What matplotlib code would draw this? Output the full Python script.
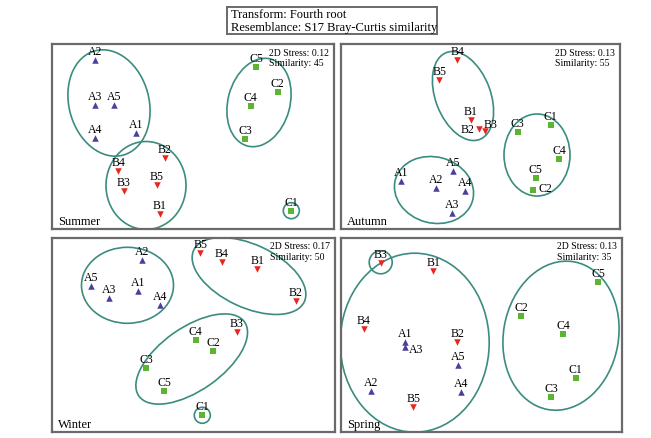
#nMDS ordination plots for four seasons, re-drawn with matplotlib

import numpy as np              #array stuff
import matplotlib.pyplot as plt #plotting
from matplotlib.patches import Ellipse

plt.rcParams['font.family'] = ['Liberation Serif', 'DejaVu Serif']

#sample names (A/B/C groups, 5 replicates each)
samples = ['A1', 'A2', 'A3', 'A4', 'A5',
           'B1', 'B2', 'B3', 'B4', 'B5',
           'C1', 'C2', 'C3', 'C4', 'C5']

#ordination coordinates (y grows downwards)
summer_x = [84.3, 43.0, 43.0, 43.3, 62.0, 108.0, 112.7, 71.7, 66.3, 104.7, 239.3, 225.7, 193.0, 198.7, 204.3]
summer_y = [89.0, 15.7, 61.0, 94.3, 61.0, 170.0, 114.3, 147.0, 127.0, 141.0, 166.7, 47.7, 95.0, 61.7, 23.0]

autumn_x = [60.0, 94.7, 111.0, 124.0, 112.3, 130.0, 137.7, 143.7, 116.3, 98.3, 209.7, 192.3, 176.7, 218.3, 194.7]
autumn_y = [136.7, 143.7, 169.3, 146.7, 127.3, 75.7, 85.0, 87.0, 16.0, 36.0, 81.0, 145.7, 87.7, 115.0, 134.3]

winter_x = [86.0, 90.3, 57.0, 107.7, 38.7, 205.3, 243.7, 185.0, 170.0, 148.3, 150.3, 161.3, 94.3, 143.7, 112.0]
winter_y = [53.0, 22.0, 60.3, 67.0, 48.3, 31.3, 63.0, 94.3, 24.3, 15.3, 177.3, 113.0, 130.0, 102.0, 153.3]

spring_x = [64.3, 30.0, 64.3, 120.0, 117.0, 92.3, 116.3, 39.7, 22.7, 72.3, 234.7, 180.0, 210.0, 222.0, 257.3]
spring_y = [104.0, 153.3, 109.3, 154.3, 126.7, 32.7, 103.7, 24.7, 91.3, 169.0, 139.7, 77.7, 159.0, 96.0, 44.0]

stress = [0.12, 0.13, 0.17, 0.13]
similarity = [45, 55, 50, 35]
seasons = ['Summer', 'Autumn', 'Winter', 'Spring']

#similarity contours: (cx, cy, width, height, angle)
summer_ell = [(57, 59, 80, 108, -15), (94, 141.5, 80, 88, 0), (207, 58.5, 62, 90, 15), (239.3, 166.7, 16, 16, 0)]
autumn_ell = [(122, 52, 55, 93, -21), (196, 111, 66, 82, 0), (93, 146, 80, 66, 15)]
winter_ell = [(75.5, 47.3, 92, 76, 0), (197, 38, 122, 63, 25), (139.7, 121, 129, 63, -35), (150.3, 177.3, 16, 16, 0)]
spring_ell = [(73.7, 104.7, 149, 179, 0), (220, 97.7, 115, 150, 10), (39.7, 24.3, 23, 23, 0)]

#a few labels don't sit straight above their point (offsets in pixels)
autumn_lab = {'B2': (-11, 0), 'B3': (6, -7), 'C2': (12, -2)}
spring_lab = {'A3': (11, 2)}

group_style = {'A': ('^', '#4a3f9c'), 'B': ('v', '#e8261f'), 'C': ('s', '#5cb531')}
ring_col = '#3b8c80'
frame_col = '#6a6a6a'

W, H = 651, 439
fig = plt.figure(figsize=(W/100, H/100), dpi=100)

#panel boxes in pixels: left, top, right, bottom
boxes = [(52, 45, 334, 230), (341, 45, 620, 230), (52, 239, 335, 433), (341, 239, 622, 433)]
xs = [summer_x, autumn_x, winter_x, spring_x]
ys = [summer_y, autumn_y, winter_y, spring_y]
ells = [summer_ell, autumn_ell, winter_ell, spring_ell]
labs = [{}, autumn_lab, {}, spring_lab]

px2pt = 72/100.

for i in range(4):
    l, t, r, b = boxes[i]
    ax = fig.add_axes([l/W, 1-b/H, (r-l)/W, (b-t)/H])
    ax.set_xlim(0, r-l)
    ax.set_ylim(b-t, 0)
    ax.set_xticks([])
    ax.set_yticks([])
    for s in ax.spines.values():
        s.set_color(frame_col)
        s.set_linewidth(1.6)

    for (cx, cy, w, h, a) in ells[i]:
        ax.add_patch(Ellipse((cx, cy), w, h, angle=a, fill=False,
                             edgecolor=ring_col, linewidth=1.2, zorder=1))

    x = np.array(xs[i]); y = np.array(ys[i])
    for g, (mk, col) in group_style.items():
        idx = [k for k, n in enumerate(samples) if n[0] == g]
        ax.scatter(x[idx], y[idx], marker=mk, s=22, color=col, linewidths=0, zorder=3)

    for k, n in enumerate(samples):
        dx, dy = labs[i].get(n, (0, -9))
        ax.annotate(n, (x[k], y[k]), xytext=(dx*px2pt, -dy*px2pt), textcoords='offset points',
                    ha='center', va='center', fontsize=8.5, zorder=4)

    ax.text(1-65/(r-l), 1-8/(b-t), '2D Stress: %.2f' % stress[i], transform=ax.transAxes,
            ha='left', va='center', fontsize=7)
    ax.text(1-65/(r-l), 1-19/(b-t), 'Similarity: %d' % similarity[i], transform=ax.transAxes,
            ha='left', va='center', fontsize=7)
    ax.text(6/(r-l), 8/(b-t), seasons[i], transform=ax.transAxes,
            ha='left', va='center', fontsize=9)

#header box
hx = fig.add_axes([227/W, 1-35/H, 210/W, 27/H])
hx.set_xticks([]); hx.set_yticks([])
for s in hx.spines.values():
    s.set_color(frame_col)
    s.set_linewidth(1.4)
hx.text(4/210, 0.74, 'Transform: Fourth root', transform=hx.transAxes, ha='left', va='center', fontsize=9)
hx.text(4/210, 0.27, 'Resemblance: S17 Bray-Curtis similarity', transform=hx.transAxes, ha='left', va='center', fontsize=9)

fig.savefig('out.png', dpi=100)
